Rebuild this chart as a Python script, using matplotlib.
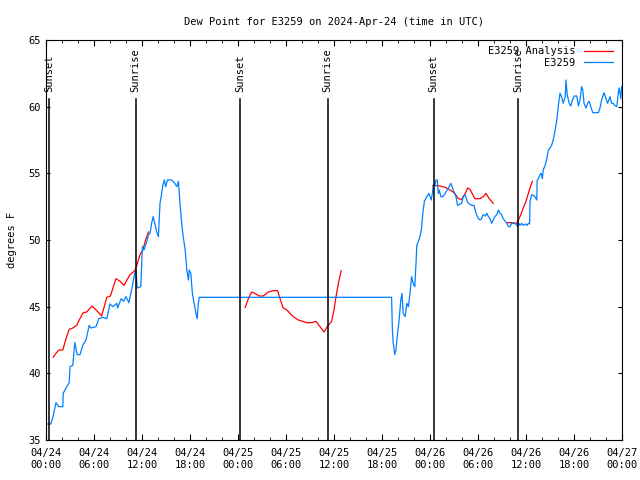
import numpy as np
import pandas as pd
import matplotlib
matplotlib.use("Agg")
import matplotlib.pyplot as plt
import matplotlib.dates as mdates

start = pd.Timestamp("2024-04-24 00:00")

# station obs: hours after start, dew point (F)
obs_hours = [
    0.0, 0.6, 0.9, 1.25, 1.6, 2.1, 2.15, 2.5, 2.9, 3.0, 3.35, 3.6, 3.9, 4.25, 4.6,
    5.0, 5.4, 5.6, 6.25, 6.6, 7.1, 7.6, 8.0, 8.35, 8.85, 8.95, 9.4, 9.7, 10.0, 10.35,
    10.75, 11.05, 11.25, 11.4, 11.85, 12.05, 12.25, 12.6, 12.8, 13.0, 13.2, 13.4, 13.6,
    13.85, 14.05, 14.25, 14.4, 14.6, 14.8, 14.95, 15.2, 15.7, 16.1, 16.35, 16.55, 16.75,
    16.95, 17.15, 17.4, 17.6, 17.8, 17.9, 18.1, 18.3, 18.5, 18.75, 18.9, 19.05, 19.15,
    43.2, 43.3, 43.4, 43.6, 43.75, 43.9, 44.1, 44.35, 44.5, 44.65, 44.9, 45.1, 45.3,
    45.5, 45.7, 45.9, 46.1, 46.25, 46.35, 46.55, 46.75, 46.95, 47.1, 47.3, 47.6, 47.85,
    48.0, 48.15, 48.3, 48.4, 48.6, 48.75, 48.9, 49.05, 49.15, 49.35, 49.6, 49.9, 50.3,
    50.6, 50.9, 51.25, 51.45, 51.95, 52.15, 52.4, 52.6, 52.8, 53.2, 53.5, 53.75, 54.05,
    54.25, 54.45, 54.65, 54.9, 55.1, 55.3, 55.5, 55.7, 55.9, 56.1, 56.35, 56.55, 56.75,
    56.95, 57.15, 57.4, 57.6, 57.8, 58.0, 58.2, 58.4, 58.75, 58.95, 59.1, 59.25, 59.45,
    59.65, 59.9, 60.15, 60.3, 60.45, 60.5, 60.7, 60.9, 61.1, 61.35, 61.4, 61.55, 61.75,
    61.9, 62.05, 62.15, 62.4, 62.6, 62.8, 63.0, 63.2, 63.4, 63.6, 63.85, 64.05, 64.25,
    64.45, 64.65, 64.9, 65.0, 65.15, 65.4, 65.6, 65.8, 66.05, 66.35, 66.55, 66.75, 66.95,
    67.1, 67.25, 67.5, 67.7, 67.9, 68.1, 68.35, 69.05, 69.25, 69.45, 69.75, 70.0, 70.2,
    70.5, 70.7, 70.9, 71.1, 71.35, 71.55, 71.65, 71.85, 71.95,
]
obs_values = [
    36.2, 36.2, 36.8, 37.8, 37.5, 37.5, 38.5, 38.9, 39.3, 40.5, 40.6, 42.3, 41.4, 41.4, 42.1,
    42.5, 43.6, 43.4, 43.5, 44.1, 44.2, 44.1, 45.2, 45.0, 45.25, 44.9, 45.6, 45.4, 45.75, 45.3,
    46.4, 47.4, 47.75, 46.4, 46.5, 49.5, 49.25, 49.9, 50.4, 50.5, 51.25, 51.75, 51.25,
    50.6, 50.25, 52.75, 53.25, 54.1, 54.5, 54.0, 54.5, 54.5, 54.25, 54.0, 54.4, 52.75,
    51.3, 50.25, 49.25, 47.75, 47.0, 47.75, 47.5, 46.0, 45.3, 44.5, 44.1, 45.25, 45.7,
    45.7, 43.25, 42.3, 41.4, 41.8, 42.75, 43.75, 45.5, 46.0, 44.5, 44.25, 45.25, 45.0,
    46.0, 47.25, 46.75, 46.5, 48.25, 49.6, 49.9, 50.25, 50.9, 52.0, 52.9, 53.25, 53.5,
    53.25, 53.0, 53.5, 54.1, 54.1, 54.5, 54.5, 53.5, 53.75, 53.25, 53.25, 53.5, 53.9,
    54.25, 53.75, 53.25, 52.6, 52.75, 53.25, 53.4, 53.0, 52.75, 52.6, 52.6, 52.0, 51.6,
    51.5, 51.6, 51.9, 51.8, 52.0, 51.75, 51.6, 51.25, 51.5, 51.75, 51.9, 52.25, 52.0,
    51.9, 51.6, 51.4, 51.25, 51.0, 51.0, 51.25, 51.25, 51.2, 51.0, 51.25, 51.1, 51.25,
    51.1, 51.2, 51.1, 51.25, 51.2, 52.9, 53.4, 53.35, 53.25, 53.0, 54.5, 54.6, 54.9,
    55.0, 54.6, 55.25, 55.6, 56.1, 56.75, 56.9, 57.1, 57.5, 58.1, 59.0, 60.1, 61.0,
    60.75, 60.25, 60.75, 62.0, 60.9, 60.25, 60.05, 60.5, 60.8, 60.8, 60.05, 60.5, 61.5,
    61.25, 60.25, 59.9, 60.25, 60.4, 60.0, 59.55, 59.55, 59.9, 60.5, 61.05, 60.6, 60.25,
    60.75, 60.25, 60.25, 60.1, 60.0, 61.1, 61.4, 60.6, 61.5,
]

# analysis: nan breaks the line between runs
ana_hours = [
    0.9, 1.25, 1.6, 2.1, 2.5, 2.9, 3.35, 3.85, 4.15, 4.65, 5.1, 5.75, 6.35, 6.95, 7.6,
    8.05, 8.75, 9.25, 9.75, 10.5, 11.1, 11.35, 11.75, 12.1, 12.4, 12.8, np.nan,
    24.9, 25.3, 25.7, 26.1, 26.65, 27.15, 27.8, 28.4, 28.95, 29.25, 29.65, 30.1, 30.5,
    30.9, 31.55, 32.6, 33.2, 33.75, 34.25, 34.75, 35.15, 35.7, 36.0, 36.25, 36.55, 36.9, np.nan,
    48.4, 49.25, 49.9, 50.5, 51.1, 51.55, 51.95, 52.4, 52.7, 53.0, 53.6, 54.25, 54.65,
    55.0, 55.4, 55.9, np.nan,
    57.6, 58.2, 58.85, 59.05, 59.35, 59.65, 60.0, 60.3, 60.6, 60.8,
]
ana_values = [
    41.2, 41.5, 41.75, 41.75, 42.6, 43.3, 43.4, 43.6, 44.0, 44.55, 44.6, 45.05, 44.7, 44.3, 45.7,
    45.8, 47.1, 46.9, 46.6, 47.4, 47.7, 48.1, 48.9, 49.25, 49.9, 50.6, np.nan,
    44.95, 45.6, 46.1, 46.0, 45.8, 45.8, 46.1, 46.2, 46.2, 45.6, 44.9, 44.75, 44.5,
    44.25, 44.0, 43.8, 43.8, 43.9, 43.5, 43.1, 43.5, 43.9, 44.75, 45.75, 46.75, 47.7, np.nan,
    54.1, 54.05, 53.95, 53.75, 53.5, 53.1, 53.05, 53.5, 53.9, 53.8, 53.1, 53.1, 53.25,
    53.5, 53.1, 52.75, np.nan,
    51.3, 51.3, 51.25, 51.5, 51.9, 52.4, 52.9, 53.5, 54.1, 54.4,
]

sun_hours = [0.4, 11.2, 24.3, 35.2, 48.45, 59.05]
sun_labels = ["Sunset", "Sunrise", "Sunset", "Sunrise", "Sunset", "Sunrise"]

obs_t = start + pd.to_timedelta(obs_hours, unit="h")
ana_t = start + pd.to_timedelta(ana_hours, unit="h")
sun_t = start + pd.to_timedelta(sun_hours, unit="h")

plt.rcParams["font.family"] = "DejaVu Sans Mono"
plt.rcParams["font.size"] = 7.5

fig = plt.figure(figsize=(6.4, 4.8), dpi=100)
ax = fig.add_axes([46 / 640, 40 / 480, 576 / 640, 400 / 480])

ax.plot(ana_t, ana_values, color="#ff0000", lw=0.9, label="E3259 Analysis")
ax.plot(obs_t, obs_values, color="#0080ff", lw=0.9, label="E3259")

for t, lab in zip(sun_t, sun_labels):
    ax.plot([t, t], [35, 60.55], color="black", lw=1.1)
    ax.text(t, 61.1, lab, rotation=90, ha="center", va="bottom")

ax.set_xlim(start, start + pd.Timedelta(hours=72))
ax.set_ylim(35, 65)
ax.xaxis.set_major_locator(mdates.HourLocator(byhour=[0, 6, 12, 18]))
ax.xaxis.set_minor_locator(mdates.HourLocator(interval=2))
ax.xaxis.set_major_formatter(mdates.DateFormatter("%m/%d\n%H:%M"))
ax.set_yticks(np.arange(35, 66, 5))

ax.tick_params(axis="x", which="major", direction="in", top=True, length=4, pad=6)
ax.tick_params(axis="x", which="minor", direction="in", top=True, length=2.5)
ax.tick_params(axis="y", direction="in", right=True, length=3, pad=4)

ax.set_title("Dew Point for E3259 on 2024-Apr-24 (time in UTC)", fontsize=7.5, pad=11)
ax.set_ylabel("degrees F", labelpad=8)

ax.legend(loc="upper right", frameon=False, markerfirst=False, handlelength=2.8,
          borderaxespad=0.2, labelspacing=0.15, handletextpad=0.8,
          bbox_to_anchor=(0.995, 1.0))

fig.savefig("out.png", dpi=100)
